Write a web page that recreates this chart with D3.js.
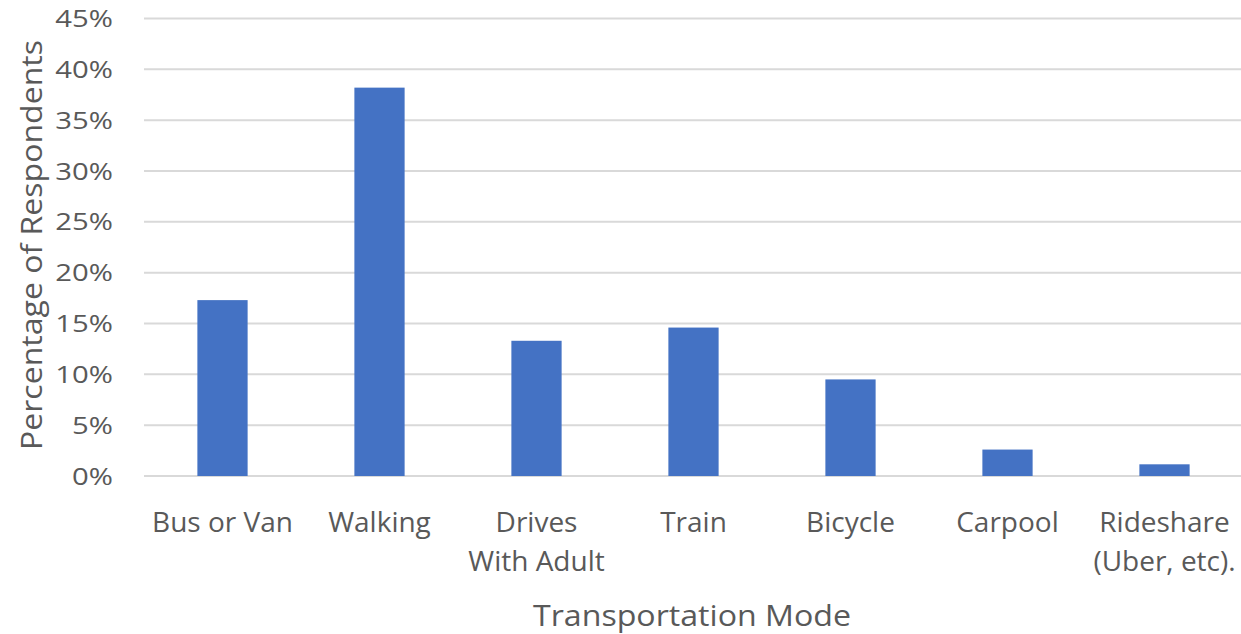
<!DOCTYPE html>
<html>
<head>
<meta charset="utf-8">
<script src="https://cdn.jsdelivr.net/npm/d3@7"></script>
<style>
  body { margin: 0; background: #fff; }
  text { font-family: "Open Sans", sans-serif; fill: #595959; }
</style>
</head>
<body>
<script>
// data
var modes = ["Bus or Van", "Walking", "Drives\nWith Adult", "Train", "Bicycle", "Carpool", "Rideshare\n(Uber, etc)."];
var shares = [17.3, 38.2, 13.3, 14.6, 9.5, 2.6, 1.15];
var yTicks = [0, 5, 10, 15, 20, 25, 30, 35, 40, 45];

var W = 1241, H = 634;
var margin = {top: 18.5, right: -2, bottom: 158, left: 144},
    width = W - margin.left - margin.right,
    height = H - margin.top - margin.bottom;

var svg = d3.select("body").append("svg")
    .attr("width", W)
    .attr("height", H);

var g = svg.append("g")
    .attr("transform", "translate(" + margin.left + "," + margin.top + ")");

var x = d3.scaleBand()
    .domain(modes)
    .range([0, width])
    .paddingInner(0.68)
    .paddingOuter(0.34);

var y = d3.scaleLinear()
    .domain([0, 45])
    .range([height, 0]);

// gridlines
g.append("g")
  .selectAll("line")
  .data(yTicks)
  .enter().append("line")
    .attr("x1", 0)
    .attr("x2", width)
    .attr("y1", function(d) { return y(d); })
    .attr("y2", function(d) { return y(d); })
    .attr("stroke", "#d9d9d9")
    .attr("stroke-width", 2);

// y tick labels (the reference glyphs are wide, so stretch them a bit)
g.append("g")
  .selectAll("text")
  .data(yTicks)
  .enter().append("text")
    .attr("transform", function(d) { return "translate(-31," + y(d) + ") scale(1.22,1)"; })
    .attr("dy", "0.36em")
    .attr("text-anchor", "end")
    .attr("font-size", 24)
    .text(function(d) { return d + "%"; });

// bars
g.selectAll("rect")
  .data(shares)
  .enter().append("rect")
    .attr("x", function(d, i) { return x(modes[i]); })
    .attr("y", function(d) { return y(d); })
    .attr("width", x.bandwidth())
    .attr("height", function(d) { return height - y(d); })
    .attr("fill", "#4472c4");

// category labels
var cat = g.append("g")
  .selectAll("text")
  .data(modes)
  .enter().append("text")
    .attr("text-anchor", "middle")
    .attr("font-size", 28)
    .attr("transform", function(d) {
      return "translate(" + (x(d) + x.bandwidth() / 2) + "," + (532 - margin.top) + ")";
    });

cat.selectAll("tspan")
  .data(function(d) { return d.split("\n"); })
  .enter().append("tspan")
    .attr("x", 0)
    .attr("dy", function(d, i) { return i ? 39 : 0; })
    .text(function(d) { return d; });

// axis titles
svg.append("text")
    .attr("x", 692)
    .attr("y", 626)
    .attr("text-anchor", "middle")
    .attr("font-size", 29)
    .attr("textLength", 318)
    .attr("lengthAdjust", "spacingAndGlyphs")
    .text("Transportation Mode");

svg.append("text")
    .attr("transform", "translate(42,245) rotate(-90)")
    .attr("text-anchor", "middle")
    .attr("font-size", 29)
    .attr("textLength", 410)
    .attr("lengthAdjust", "spacingAndGlyphs")
    .text("Percentage of Respondents");
</script>
</body>
</html>
